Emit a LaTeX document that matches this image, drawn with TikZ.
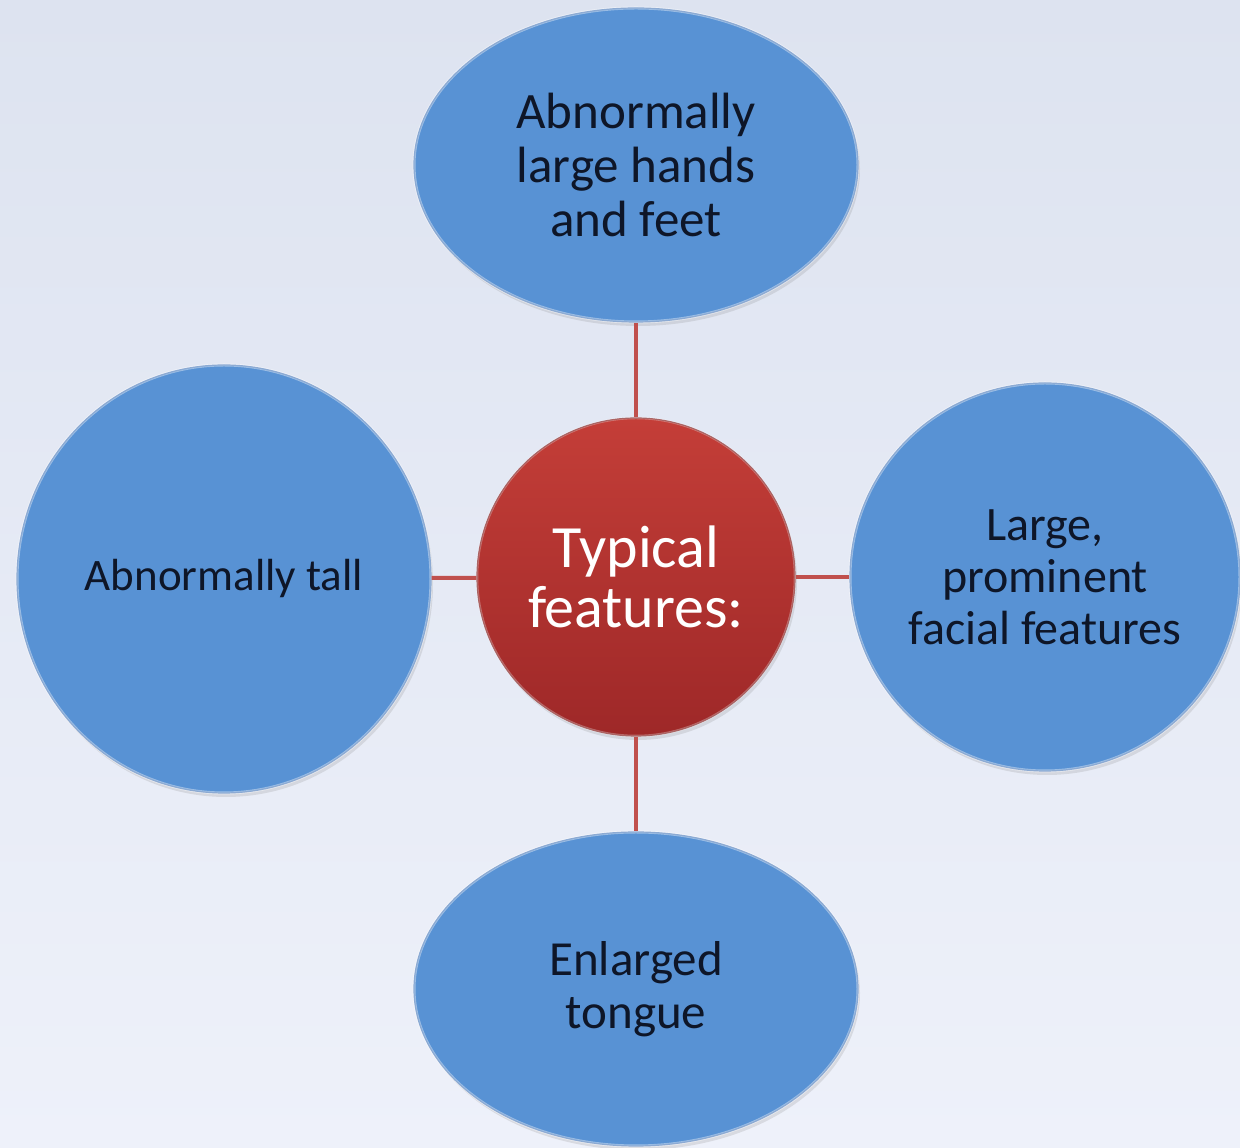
\documentclass[tikz,border=0pt]{standalone}
\usepackage{fontspec}
\setmainfont{Carlito}
\usepackage{tikz}
\usepackage{xcolor}
\usetikzlibrary{shapes.geometric}
\usetikzlibrary{shadows}
\definecolor{featblue}{RGB}{88,146,212}
\definecolor{featrim}{RGB}{64,114,182}
\definecolor{hubtop}{RGB}{196,62,56}
\definecolor{hubbottom}{RGB}{158,40,40}
\definecolor{linkred}{RGB}{192,80,77}
\definecolor{inktext}{RGB}{14,22,40}
\definecolor{bgtop}{RGB}{221,227,240}
\definecolor{bgbottom}{RGB}{238,241,250}
\tikzset{
    feature/.style = {ellipse, fill=featblue, draw=featrim, line width=1.2pt,
        inner sep=0pt, align=center, text=inktext,
        font=\fontsize{42pt}{53pt}\selectfont,
        drop shadow={shadow xshift=2pt, shadow yshift=-4pt, opacity=0.2},
        postaction={draw=white, draw opacity=0.4, line width=3pt}},
    hub/.style = {circle, top color=hubtop, bottom color=hubbottom,
        draw=hubbottom!85!black, line width=1.2pt,
        minimum size=318pt, inner sep=0pt, align=center, text=white,
        font=\fontsize{60pt}{60pt}\selectfont,
        drop shadow={shadow xshift=2pt, shadow yshift=-4pt, opacity=0.2},
        postaction={draw=white, draw opacity=0.3, line width=2.5pt}},
    link/.style = {draw=linkred, line width=4pt}
}

\begin{document}
\begin{tikzpicture}[node distance=412pt]
    \shade [top color=bgtop, bottom color=bgbottom] (0,0) rectangle (1240pt,1148pt);
    \useasboundingbox (0,0) rectangle (1240pt,1148pt);
    \coordinate (c) at (636pt,571pt);
    \node [hub] (hub) at (c) {Typical\\features:};
    \node [feature, above of=hub, minimum width=444pt, minimum height=314pt,
        font=\fontsize{51pt}{54pt}\selectfont] (hands) {Abnormally\\large hands\\and feet};
    \node [feature, left of=hub, yshift=-2pt, minimum width=414pt, minimum height=428pt,
        font=\fontsize{45pt}{54pt}\selectfont] (tall) {Abnormally tall};
    \node [feature, right of=hub, xshift=-3pt, minimum width=390pt, minimum height=388pt,
        font=\fontsize{48pt}{52pt}\selectfont] (face) {Large,\\prominent\\facial features};
    \node [feature, below of=hub, minimum width=444pt, minimum height=314pt,
        font=\fontsize{49pt}{53pt}\selectfont] (tongue) {Enlarged\\tongue};
    \draw [link] (hub) -- (hands);
    \draw [link] (hub) -- (tall);
    \draw [link] (hub) -- (face);
    \draw [link] (hub) -- (tongue);
\end{tikzpicture}
\end{document}
